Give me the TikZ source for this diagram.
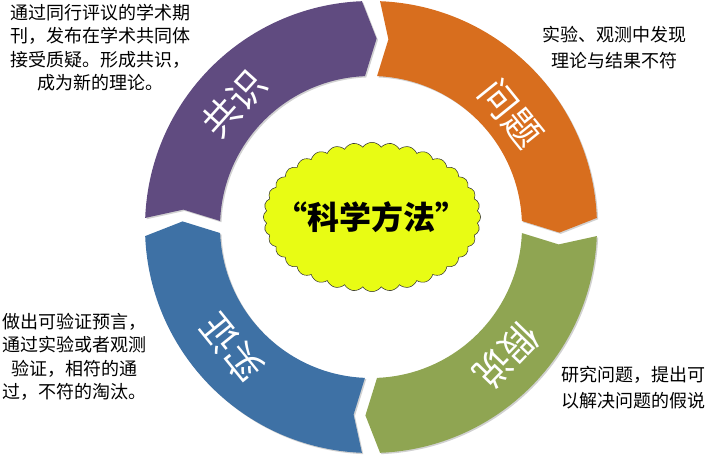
\documentclass[tikz,border=0pt]{standalone}
\usepackage{fontspec}
\setmainfont{Noto Sans CJK SC}
\usepackage{tikz}
\usetikzlibrary{shapes.symbols, shadows}
\usepackage{xcolor}
\definecolor{ringpurple}{RGB}{96,75,128}
\definecolor{ringorange}{RGB}{216,110,30}
\definecolor{ringgreen}{RGB}{143,165,82}
\definecolor{ringblue}{RGB}{62,113,165}
\definecolor{cloudyellow}{RGB}{232,252,20}
\newcommand{\Rout}{226}
\newcommand{\Rin}{151}
\newcommand{\Rmid}{188.5}
% one arrow piece of the ring: colour, start angle, end angle
\newcommand{\ringseg}[3]{%
  \fill[#1, segshadow] (#2:\Rout) arc[start angle=#2, end angle=#3, radius=\Rout]
    -- ({#3-4}:\Rmid) -- (#3:\Rin) arc[start angle=#3, end angle=#2, radius=\Rin]
    -- ({#2-3}:\Rmid) -- cycle;}
\tikzset{
  segshadow/.style={drop shadow={shadow xshift=1pt, shadow yshift=-1pt, opacity=0.3, fill=black!60}},
  notetext/.style={align=center, inner sep=0pt, font=\fontsize{13.5}{17.5}\selectfont},
  ringlabel/.style={text=white, inner sep=0pt, font=\fontsize{28}{28}\selectfont},
  cloudbox/.style={cloud, cloud puffs=36, cloud puff arc=110, aspect=1.5, draw=black!80, thin,
    fill=cloudyellow, minimum width=163pt, minimum height=112pt, inner sep=0pt},
  titletext/.style={inner sep=0pt, font=\fontsize{24}{24}\selectfont\bfseries}
}
\begin{document}
\begin{tikzpicture}[x=0.75pt, y=0.75pt]
  \useasboundingbox (-371,-230) rectangle (339,227);

  \ringseg{ringpurple}{177.7}{92.3}
  \ringseg{ringorange}{87.7}{2.3}
  \ringseg{ringgreen}{-2.3}{-87.7}
  \ringseg{ringblue}{-92.3}{-177.7}

  \node[ringlabel, rotate=48]   (consensus)  at (138:184)  {共识};
  \node[ringlabel, rotate=-51]  (problem)    at (39:180)   {问题};
  \node[ringlabel, rotate=-134] (hypothesis) at (-43.5:187) {假说};
  \node[ringlabel, rotate=129]  (evidence)   at (221:185)  {实证};

  \node[cloudbox] (cloud) at (1,10) {};
  \node[titletext] (method) at (cloud.center) {“科学方法”};

  \node[notetext] (consnote) at (-270,179.5)
        {通过同行评议的学术期\\刊，发布在学术共同体\\接受质疑。形成共识，\\成为新的理论。};
  \node[notetext, font=\fontsize{13.5}{19}\selectfont] (probnote) at (243,179.5)
        {实验、观测中发现\\理论与结果不符};
  \node[notetext] (evidnote) at (-296,-130)
        {做出可验证预言，\\通过实验或者观测\\验证，相符的通\\过，不符的淘汰。};
  \node[notetext, font=\fontsize{13.5}{19}\selectfont] (hyponote) at (262,-160.5)
        {研究问题，提出可\\以解决问题的假说};
\end{tikzpicture}
\end{document}
